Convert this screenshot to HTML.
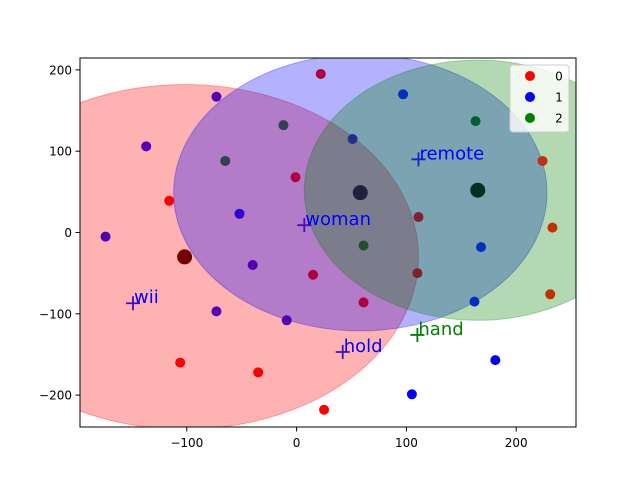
<!DOCTYPE html>
<html><head><meta charset="utf-8"><style>
body{margin:0;background:#fff}
text{font-family:"DejaVu Sans","Liberation Sans",sans-serif}
</style></head><body>
<svg id="chart" width="640" height="480" xmlns="http://www.w3.org/2000/svg">
<defs><clipPath id="clip"><rect x="80" y="58" width="496" height="369"/></clipPath></defs>
<rect width="640" height="480" fill="#fff"/>
<g id="plot" clip-path="url(#clip)"></g>
<g id="axes"></g>
</svg>
<script>
const ptX=[-73,22,-137,-12,-65,-1,-116,-52,-174,97,163,51,224,233,111,168,61,-40,15,110,231,-73,61,162,-9,-106,-35,25,105,181];
const ptY=[167,195,106,132,88,68,39,23,-5,170,137,115,88,6,19,-18,-16,-40,-52,-50,-76,-97,-86,-85,-108,-160,-172,-218,-199,-157];
const ptColor=['#5000b0','#b00040','#5000b0','#334050','#334050','#b00040','#ff0000','#3000d0','#5000b0','#0030c0','#006030','#203090','#c03010','#c03000','#802030','#0030c0','#205030','#5000b0','#b00040','#802030','#c03000','#5000b0','#b00040','#0030c0','#5000b0','#ff0000','#ff0000','#ff0000','#0000ff','#0000ff'];
const cenX=[-102,58,165];
const cenY=[-30,49,52];
const cenColor=['#700000','#202040','#003020'];
const ellRx=[213,170,158];
const ellRy=[212,170,160];
const ellFill=['#ff0000','#0000ff','#008000'];
const wordLabels=['wii','woman','remote','hold','hand'];
const wordX=[-149,7,111,42,110];
const wordY=[-87,9,90,-147,-126];
const wordColor=['#4010c0','#4010c0','#2020c0','#4010c0','#008000'];
const wordText=['#0000ff','#0000ff','#0000ff','#0000ff','#008000'];
const xTicks=[-100,0,100,200];
const yTicks=[-200,-100,0,100,200];
const legendLabels=['0','1','2'];
const legendColors=['#ff0000','#0000ff','#008000'];

const NS='http://www.w3.org/2000/svg';
const X=v=>296.6+v*1.098;
const Y=v=>232.5-v*0.813;
function mk(parent,tag,attrs){const e=document.createElementNS(NS,tag);for(const k in attrs)e.setAttribute(k,attrs[k]);parent.appendChild(e);return e;}
const plot=document.getElementById('plot'), axes=document.getElementById('axes');
ellRx.forEach((rx,i)=>{
  const e=mk(plot,'ellipse',{cx:X(cenX[i]),cy:Y(cenY[i]),rx:rx*1.098,ry:ellRy[i]*0.813,fill:ellFill[i],'fill-opacity':0.3,stroke:ellFill[i],'stroke-opacity':0.3});
  
  
});
ptX.forEach((v,i)=>{
  const c=mk(plot,'circle',{cx:X(v),cy:Y(ptY[i]),r:5,fill:ptColor[i]});
  
  
});
cenX.forEach((v,i)=>{
  const c=mk(plot,'circle',{cx:X(v),cy:Y(cenY[i]),r:7.5,fill:cenColor[i]});
  
  
});
wordLabels.forEach((w,i)=>{
  const x=X(wordX[i]),y=Y(wordY[i]);
  const p=mk(plot,'path',{d:`M${x-7},${y}H${x+7}M${x},${y-7}V${y+7}`,stroke:wordColor[i],'stroke-width':1.8});
  
  
  const t=mk(plot,'text',{x:x+1,y:y,'font-size':18,fill:wordText[i]});
  t.textContent=w;
  
  
});
const frame=mk(axes,'rect',{x:80,y:58,width:496,height:369,fill:'none',stroke:'#000','stroke-width':1});


xTicks.forEach(v=>{
  const x=X(v);
  mk(axes,'line',{x1:x,x2:x,y1:427,y2:431.5,stroke:'#000'});
  const t=mk(axes,'text',{x:x,y:447,'font-size':12,'text-anchor':'middle',fill:'#000'});
  t.textContent=v<0?'\u2212'+(-v):v;
  
  
});
yTicks.forEach(v=>{
  const y=Y(v);
  mk(axes,'line',{x1:75.5,x2:80,y1:y,y2:y,stroke:'#000'});
  const t=mk(axes,'text',{x:72,y:y+4.5,'font-size':12,'text-anchor':'end',fill:'#000'});
  t.textContent=v<0?'\u2212'+(-v):v;
  
  
});
const lg=mk(axes,'g',{});


mk(lg,'rect',{x:510,y:65,width:59,height:67,rx:3,fill:'#fff','fill-opacity':0.8,stroke:'#ccc'});
legendLabels.forEach((l,i)=>{
  const y=76+i*21;
  const c=mk(lg,'circle',{cx:530,cy:y,r:5,fill:legendColors[i]});
  
  
  const t=mk(lg,'text',{x:559,y:y+4.5,'font-size':12,'text-anchor':'middle',fill:'#000'});
  t.textContent=l;
  
  
});
</script>
</body></html>
